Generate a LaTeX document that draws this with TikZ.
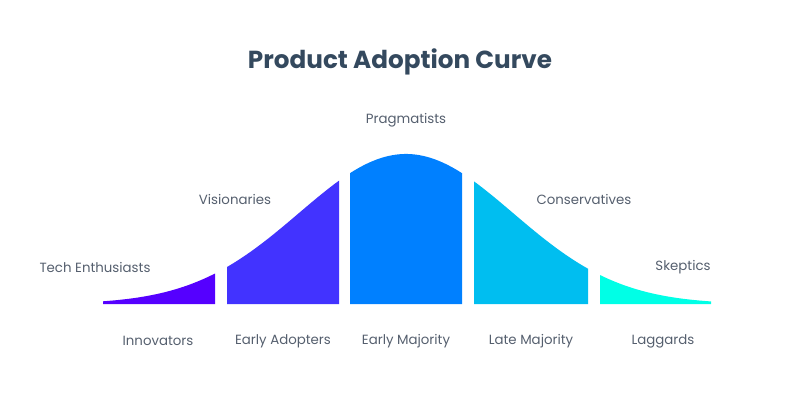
\documentclass[tikz,border=0pt]{standalone}
\usepackage{fontspec}
\setmainfont{Poppins}
\definecolor{titlecol}{RGB}{52,73,94}
\definecolor{labelcol}{RGB}{85,95,110}
\definecolor{innovcol}{RGB}{85,0,255}
\definecolor{adoptcol}{RGB}{66,51,255}
\definecolor{earlycol}{RGB}{0,128,255}
\definecolor{latecol}{RGB}{0,190,240}
\definecolor{laggcol}{RGB}{0,255,230}
\tikzset{
	declare function={bell(\t)=304-150*exp(-0.5*((\t-406)/107)^2);},
	label/.style={text=labelcol,font=\fontsize{10}{12}\selectfont,inner sep=0pt},
	title/.style={text=titlecol,font=\fontsize{18.5}{21}\selectfont\bfseries,inner sep=0pt},
}
\begin{document}
\begin{tikzpicture}[x=0.75pt,y=-0.75pt]
	\useasboundingbox (0,0) rectangle (800,397);
	
	\fill[innovcol] (103,304) -- plot[domain=103:215,samples=40] (\x,{bell(\x)}) -- (215,304) -- cycle;	%innovators
	\fill[adoptcol] (227,304) -- plot[domain=227:339,samples=40] (\x,{bell(\x)}) -- (339,304) -- cycle;	%early adopters
	\fill[earlycol] (350,304) -- plot[domain=350:462,samples=40] (\x,{bell(\x)}) -- (462,304) -- cycle;	%early majority
	\fill[latecol]  (474,304) -- plot[domain=474:588,samples=40] (\x,{bell(\x)}) -- (588,304) -- cycle;	%late majority
	\fill[laggcol]  (600,304) -- plot[domain=600:711,samples=40] (\x,{bell(\x)}) -- (711,304) -- cycle;	%laggards
	
	%labels
	\node[title] (title) at (400,62) {Product Adoption Curve};
	%
	\node[label] (techent) at ( 95,267) {Tech Enthusiasts};
	\node[label] (vision)  at (235,199) {Visionaries};
	\node[label] (pragm)   at (406,120) {Pragmatists};
	\node[label] (conserv) at (584,199) {Conservatives};
	\node[label] (skept)   at (683,267) {Skeptics};
	%
	\node[label] (innov)   at (158,341) {Innovators};
	\node[label] (adopt)   at (283,341) {Early Adopters};
	\node[label] (earlymaj) at (406,341) {Early Majority};
	\node[label] (latemaj) at (531,341) {Late Majority};
	\node[label] (lagg)    at (663,341) {Laggards};
\end{tikzpicture}
\end{document}
